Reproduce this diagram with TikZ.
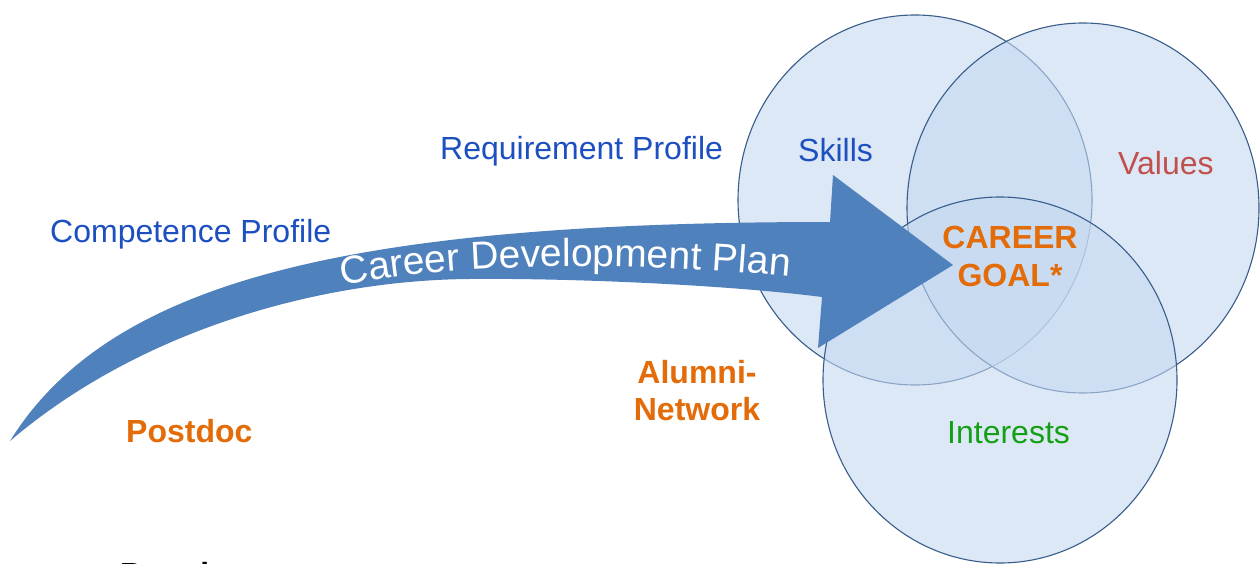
\documentclass[tikz,border=0pt]{standalone}
\usepackage{fontspec}
\setmainfont{Liberation Sans}
\usetikzlibrary{decorations.text}
\definecolor{tblue}{HTML}{1C4FC0}
\definecolor{torange}{HTML}{E36C09}
\definecolor{tred}{HTML}{C0504D}
\definecolor{tgreen}{HTML}{14A014}
\definecolor{arrowblue}{HTML}{4F81BD}
\definecolor{circfill}{HTML}{C6D9F1}
\definecolor{circline}{HTML}{385D8A}
\begin{document}
\begin{tikzpicture}[x=1pt,y=-1pt,
  lbl/.style={inner sep=0pt, anchor=base west, font=\fontsize{32}{36}\selectfont},
  lblc/.style={inner sep=0pt, anchor=base, font=\fontsize{32}{36}\selectfont\bfseries},
  venn/.style={fill=circfill, fill opacity=0.58, draw=circline, line width=1.1pt}]
\clip (0,0) rectangle (1260,564);
\fill[white] (0,0) rectangle (1260,564);
% circles
\path[venn] (915,200) ellipse [x radius=177, y radius=185];
\path[venn] (1083,208) ellipse [x radius=176, y radius=185];
\path[venn] (1000,380) ellipse [x radius=177, y radius=183];
% arrow
\fill[arrowblue] (10,441) .. controls (110,280) and (350,222) .. (830,222)
  -- (833,175) -- (953,265) -- (818,348) -- (822,297)
  .. controls (720,284) and (560,278) .. (470,279)
  .. controls (320,280) and (140,330) .. (10,441) -- cycle;
\path[decorate, decoration={text along path, text align=center,
  text={|\fontsize{39}{41}\selectfont\color{white}|Career Development Plan}}]
  (335,287) .. controls (430,266) and (600,258) .. (797,277);
% labels
\node[lbl, text=tblue] (comp) at (50,242) {Competence Profile};
\node[lbl, text=tblue] (req) at (440,160) {Requirement Profile};
\node[lbl, text=tblue] (skills) at (798,162) {Skills};
\node[lbl, text=tred] (values) at (1118,175) {Values};
\node[lbl, text=tgreen] (interests) at (947,443) {Interests};
\node[lbl, text=torange, font=\fontsize{32}{36}\selectfont\bfseries] (postdoc) at (126,442) {Postdoc};
\node[lblc, text=torange] (alumni) at (697,383) {Alumni-};
\node[lblc, text=torange] (network) at (697,420) {Network};
\node[lblc, text=torange] (career) at (1010,248) {CAREER};
\node[lblc, text=torange] (goal) at (1010,286) {GOAL*};
\node[lbl, text=black, font=\fontsize{32}{36}\selectfont\bfseries] (postdoc2) at (120,585) {Postdoc};
\end{tikzpicture}
\end{document}
